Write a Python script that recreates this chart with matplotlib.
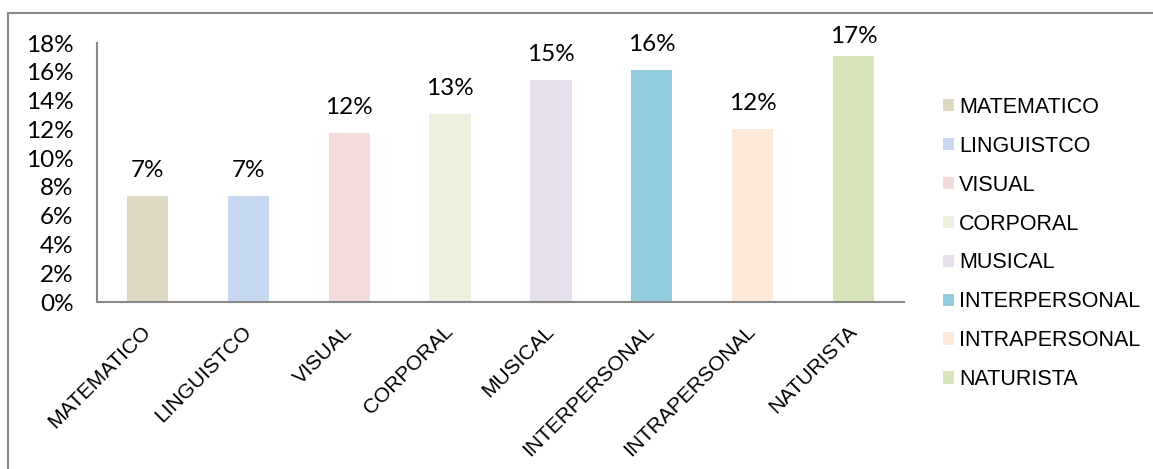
import matplotlib
matplotlib.use("agg")
import matplotlib.pyplot as plt
from matplotlib.patches import Rectangle
from matplotlib.ticker import FuncFormatter

categories = ['MATEMATICO', 'LINGUISTCO', 'VISUAL', 'CORPORAL', 'MUSICAL',
              'INTERPERSONAL', 'INTRAPERSONAL', 'NATURISTA']
values = [7.36, 7.36, 11.74, 13.06, 15.40, 16.10, 12.00, 17.08]
labels = ['7%', '7%', '12%', '13%', '15%', '16%', '12%', '17%']
colors = ['#DDD8C2', '#C6D9F0', '#F2DCDB', '#EBF1DD', '#E5E0EC',
          '#93CDDD', '#FDE9D9', '#D7E4BC']
yticks = [0, 2, 4, 6, 8, 10, 12, 14, 16, 18]

num_font = ['Lato', 'DejaVu Sans']
txt_font = ['Liberation Sans', 'DejaVu Sans']
edge = '#898989'
ymax = 18

fig = plt.figure(figsize=(11.53, 4.69), dpi=100)
ax = fig.add_axes([97 / 1153, 1 - 302 / 469, (904 - 97) / 1153, (302 - 43) / 469])

x = range(len(categories))
bars = ax.bar(x, values, width=0.41, color=colors, label=categories)

# labels sit a fixed gap above the bar, but excel keeps them inside the plot area
for i in x:
    ax.text(i, min(values[i] + 1.32, ymax), labels[i], ha='center', va='baseline',
            fontsize=17.5, family=num_font)

ax.set_xlim(-0.5, len(categories) - 0.5)
ax.set_ylim(0, ymax)
ax.set_yticks(yticks)
ax.yaxis.set_major_formatter(FuncFormatter(lambda v, p: '%d%%' % v))
ax.set_xticks(list(x))
ax.set_xticklabels(categories, rotation=45, ha='right', va='center',
                   rotation_mode='anchor', family=txt_font, fontsize=15)
for t in ax.get_yticklabels():
    t.set_family(num_font)
    t.set_fontsize(17.5)
ax.tick_params(axis='both', length=0)
ax.tick_params(axis='y', pad=17)
ax.tick_params(axis='x', pad=19)

for s in ['top', 'right']:
    ax.spines[s].set_visible(False)
for s in ['left', 'bottom']:
    ax.spines[s].set_color(edge)
    ax.spines[s].set_linewidth(1.5)

leg = fig.legend(handles=list(bars), labels=categories, loc='upper left',
                 bbox_to_anchor=(943 / 1153, 1 - 97 / 469), frameon=False,
                 prop={'family': txt_font, 'size': 15.5},
                 handlelength=0.5, handleheight=0.5, handletextpad=0.25,
                 labelspacing=0.83, borderpad=0, borderaxespad=0)

fig.patches.append(Rectangle((8 / 1153, -0.1), 1.2, 1 - 13 / 469 + 0.1,
                             transform=fig.transFigure, fill=False,
                             edgecolor=edge, linewidth=1.5))

fig.savefig('out.png', dpi=100)
